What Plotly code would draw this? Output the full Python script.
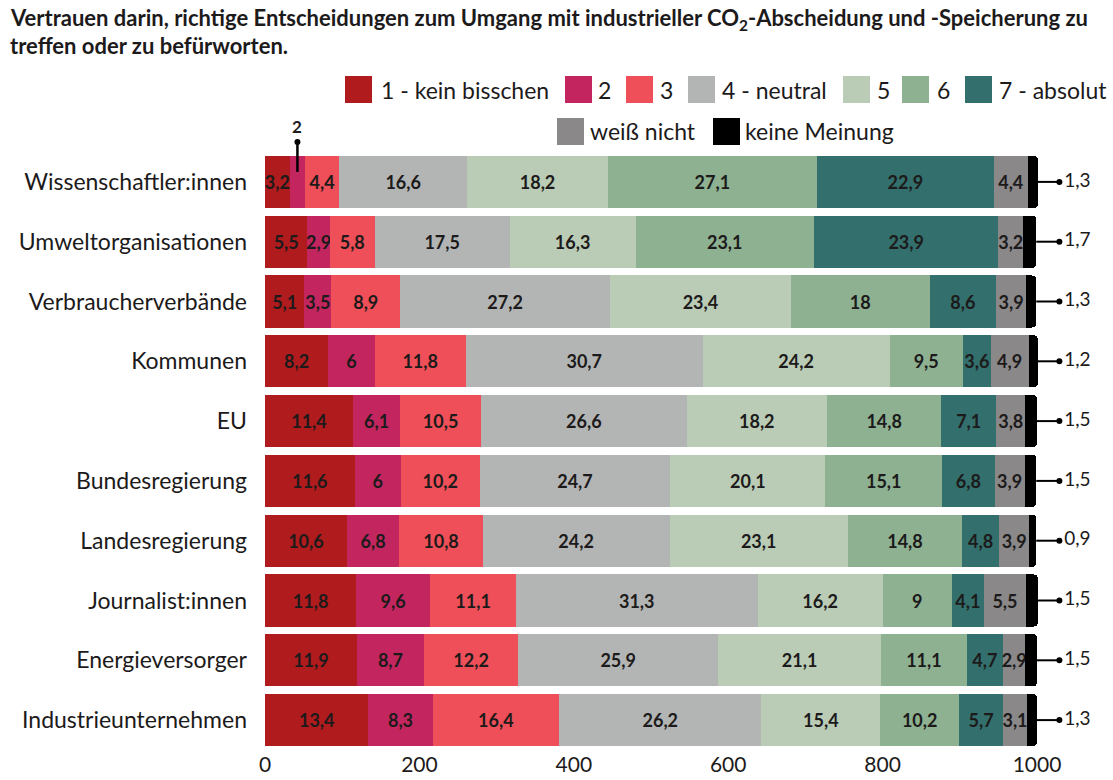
import plotly.graph_objects as go

# Institutions (top to bottom)
categories = [
    "Wissenschaftler:innen", "Umweltorganisationen", "Verbraucherverbände",
    "Kommunen", "EU", "Bundesregierung", "Landesregierung",
    "Journalist:innen", "Energieversorger", "Industrieunternehmen",
]

# Answer levels and their colours
levels = ["1 - kein bisschen", "2", "3", "4 - neutral", "5", "6", "7 - absolut",
          "weiß nicht", "keine Meinung"]
level_colors = ["#B01B1E", "#C3265F", "#EE4F58", "#B3B5B4", "#BACCB5",
                "#8DB191", "#336F6C", "#8A8889", "#000000"]

# Shares in percent per answer level, ordered like `categories`
share_1 = [3.2, 5.5, 5.1, 8.2, 11.4, 11.6, 10.6, 11.8, 11.9, 13.4]
share_2 = [2, 2.9, 3.5, 6, 6.1, 6, 6.8, 9.6, 8.7, 8.3]
share_3 = [4.4, 5.8, 8.9, 11.8, 10.5, 10.2, 10.8, 11.1, 12.2, 16.4]
share_4 = [16.6, 17.5, 27.2, 30.7, 26.6, 24.7, 24.2, 31.3, 25.9, 26.2]
share_5 = [18.2, 16.3, 23.4, 24.2, 18.2, 20.1, 23.1, 16.2, 21.1, 15.4]
share_6 = [27.1, 23.1, 18, 9.5, 14.8, 15.1, 14.8, 9, 11.1, 10.2]
share_7 = [22.9, 23.9, 8.6, 3.6, 7.1, 6.8, 4.8, 4.1, 4.7, 5.7]
share_dont_know = [4.4, 3.2, 3.9, 4.9, 3.8, 3.9, 3.9, 5.5, 2.9, 3.1]
share_no_opinion = [1.3, 1.7, 1.3, 1.2, 1.5, 1.5, 0.9, 1.5, 1.5, 1.3]

# Respondents per institution (axis scale)
n_respondents = 1000
x_tick_values = [0, 200, 400, 600, 800, 1000]

series = [share_1, share_2, share_3, share_4, share_5, share_6, share_7,
          share_dont_know, share_no_opinion]

# ---- geometry -------------------------------------------------------------
W, H = 1113, 780
M_L, M_R, M_T, M_B = 265, 0, 152, 30
PX_PER_UNIT = 0.772
X_MAX = (W - M_L - M_R) / PX_PER_UNIT
PLOT_W = W - M_L - M_R
PLOT_H = H - M_T - M_B

FONT = "Lato"
TEXT_DARK = "#1c1a1a"
MIN_INSIDE = 2.5  # narrower segments get their label outside


def fmt(v):
    return f"{v:g}".replace(".", ",")


def to_counts(vals):
    return [v * n_respondents / 100 for v in vals]


def paper_x_px(px):
    return (px - M_L) / PLOT_W


def paper_y_px(py):
    return 1 - (py - M_T) / PLOT_H


def paper_y_cat(i):
    return 1 - (i + 0.5) / len(categories)


fig = go.Figure()

last = len(series) - 1
for k, (name, col, vals) in enumerate(zip(levels, level_colors, series)):
    texts = [None if (k == last or v < MIN_INSIDE) else fmt(v) for v in vals]
    fig.add_trace(go.Bar(
        y=categories, x=to_counts(vals), name=name, orientation="h",
        marker=dict(color=col, line=dict(width=0),
                    cornerradius=4 if k == last else None),
        text=texts, textposition="inside", insidetextanchor="middle",
        textangle=0,
        insidetextfont=dict(family=FONT, size=18, color=TEXT_DARK, weight="bold"),
        showlegend=False, hoverinfo="skip",
    ))

# Totals (end of each stack) for the "keine Meinung" callouts
totals = [sum(s[i] for s in series) for i in range(len(categories))]
tot_counts = to_counts(totals)
CALLOUT_X = 1029

line_x, line_y = [], []
for c, t in zip(categories, tot_counts):
    line_x += [t, CALLOUT_X, None]
    line_y += [c, c, None]
fig.add_trace(go.Scatter(
    x=line_x, y=line_y, mode="lines", line=dict(color="#000", width=2),
    showlegend=False, hoverinfo="skip",
))
fig.add_trace(go.Scatter(
    x=[CALLOUT_X] * len(categories), y=categories, mode="markers+text",
    marker=dict(color="#000", size=6),
    text=[fmt(v) for v in share_no_opinion], textposition="middle right",
    textfont=dict(family=FONT, size=19, color=TEXT_DARK),
    showlegend=False, hoverinfo="skip", cliponaxis=False,
))

shapes = []
annotations = []

# Callouts above the bar for segments too narrow for an inside label
for k, vals in enumerate(series[:last]):
    for i, v in enumerate(vals):
        if v < MIN_INSIDE:
            start = sum(s[i] for s in series[:k])
            mid = to_counts([start + v / 2])[0] / X_MAX
            top_y = paper_y_cat(i) + 40 / PLOT_H
            bot_y = paper_y_cat(i) + 10 / PLOT_H
            shapes.append(dict(type="line", xref="paper", yref="paper",
                               x0=mid, x1=mid, y0=bot_y, y1=top_y,
                               line=dict(color="#000", width=2.5)))
            r = 3 / PLOT_W
            ry = 3 / PLOT_H
            shapes.append(dict(type="circle", xref="paper", yref="paper",
                               x0=mid - r, x1=mid + r, y0=top_y - ry, y1=top_y + ry,
                               fillcolor="#000", line=dict(width=0)))
            annotations.append(dict(xref="paper", yref="paper", x=mid,
                                    y=top_y + 15 / PLOT_H, text=f"<b>{fmt(v)}</b>",
                                    showarrow=False, xanchor="center", yanchor="middle",
                                    font=dict(family=FONT, size=17, color=TEXT_DARK)))

# Hand-placed legend: (square left px, text left px, row center px)
legend_pos = [
    (345, 379, 89.5), (565, 596, 89.5), (626, 658, 89.5), (688, 720, 89.5),
    (843, 875, 89.5), (902, 935, 89.5), (965, 997, 89.5),
    (557, 588, 131.5), (713, 743, 131.5),
]
SQ = 27
for (sq_l, tx_l, cy), name, col in zip(legend_pos, levels, level_colors):
    shapes.append(dict(type="rect", xref="paper", yref="paper",
                       x0=paper_x_px(sq_l), x1=paper_x_px(sq_l + SQ),
                       y0=paper_y_px(cy + SQ / 2), y1=paper_y_px(cy - SQ / 2),
                       fillcolor=col, line=dict(width=0)))
    annotations.append(dict(xref="paper", yref="paper",
                            x=paper_x_px(tx_l), y=paper_y_px(cy),
                            text=name, showarrow=False,
                            xanchor="left", yanchor="middle",
                            font=dict(family=FONT, size=23, color=TEXT_DARK)))

# Title (two lines)
title_lines = [
    "Vertrauen darin, richtige Entscheidungen zum Umgang mit industrieller "
    "CO<sub>2</sub>-Abscheidung und -Speicherung zu",
    "treffen oder zu befürworten.",
]
for line, cy in zip(title_lines, [19, 46]):
    annotations.append(dict(xref="paper", yref="paper",
                            x=paper_x_px(8), y=paper_y_px(cy),
                            text=f"<b>{line}</b>", showarrow=False,
                            xanchor="left", yanchor="middle",
                            font=dict(family=FONT, size=22, color=TEXT_DARK)))

fig.update_layout(
    width=W, height=H,
    margin=dict(l=M_L, r=M_R, t=M_T, b=M_B, pad=0),
    barmode="stack", bargap=0.13,
    plot_bgcolor="white", paper_bgcolor="white",
    uniformtext=dict(minsize=18, mode="show"),
    shapes=shapes, annotations=annotations,
    xaxis=dict(range=[0, X_MAX], tickvals=x_tick_values,
               ticktext=[str(v) for v in x_tick_values],
               showgrid=False, zeroline=False, showline=False,
               ticks="", tickfont=dict(family=FONT, size=21, color=TEXT_DARK)),
    yaxis=dict(categoryorder="array", categoryarray=categories,
               range=[len(categories) - 0.5, -0.5],
               showgrid=False, zeroline=False, showline=False,
               ticks="", ticklabelstandoff=17,
               tickfont=dict(family=FONT, size=23, color=TEXT_DARK)),
    showlegend=False,
)

fig.write_html("out.html")
